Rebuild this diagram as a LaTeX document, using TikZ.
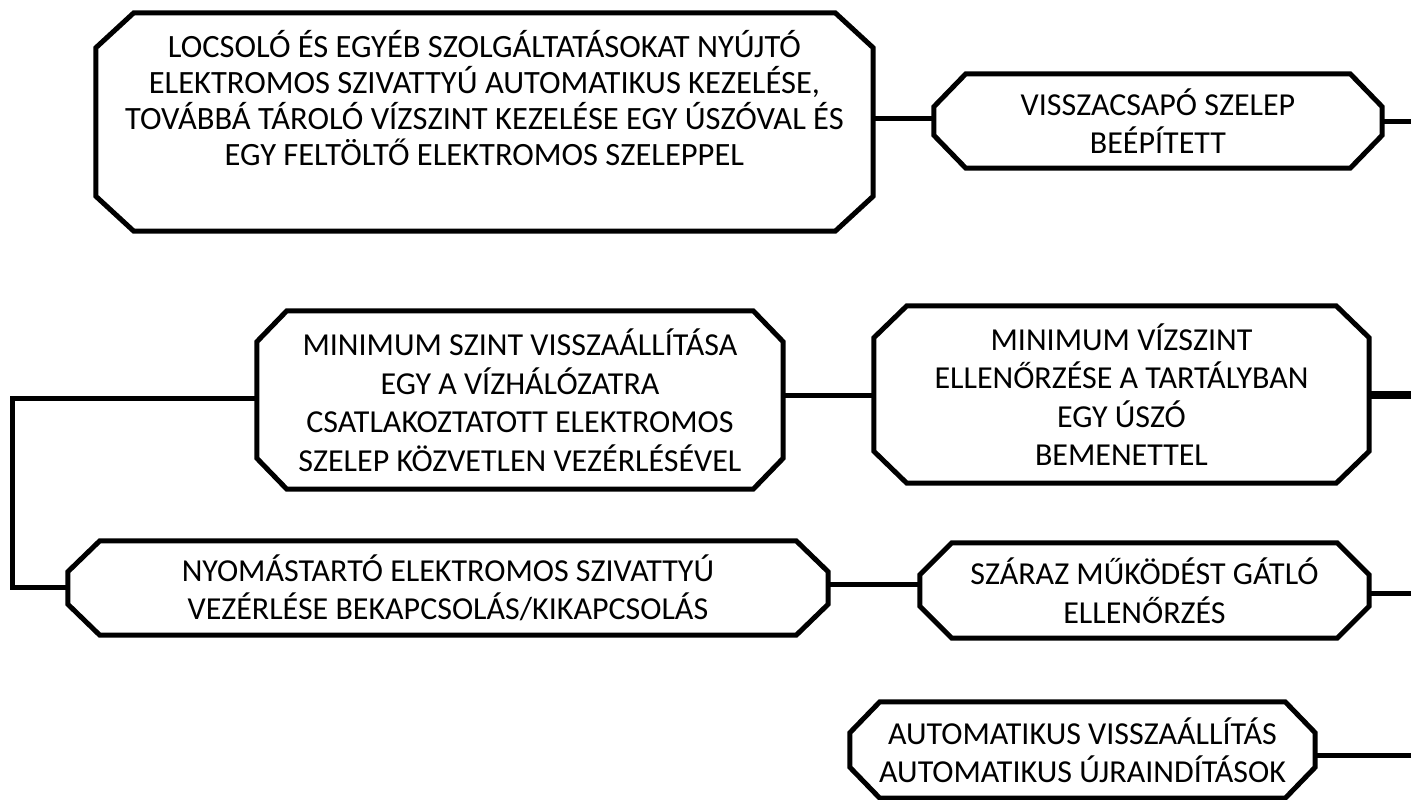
\documentclass[tikz,border=0pt]{standalone}
\usepackage{fontspec}
\setmainfont{Carlito}
\usetikzlibrary{calc}
\newcommand{\octo}[3]{%
  \draw[octline] ($(#1.north west)+(#2,0)$) -- ($(#1.north east)+(-#2,0)$)
    -- ($(#1.north east)+(0,#3)$) -- ($(#1.south east)+(0,-#3)$)
    -- ($(#1.south east)+(-#2,0)$) -- ($(#1.south west)+(#2,0)$)
    -- ($(#1.south west)+(0,-#3)$) -- ($(#1.north west)+(0,#3)$) -- cycle;}
\begin{document}
\begin{tikzpicture}[x=1pt,y=-1pt,
  octline/.style={draw=black, line width=5pt, line join=miter},
  octbox/.style={rectangle, draw=none, inner sep=0pt, align=center,
    font=\fontsize{32}{38.5}\selectfont},
  wire/.style={line width=5pt},
  lbl/.style={inner sep=0pt, align=center, font=\fontsize{32.5}{36}\selectfont}]
\useasboundingbox (0,0) rectangle (1411,800);
% boxes
\node[octbox, minimum width=777pt, minimum height=218pt] (n1) at (484.5,122) {};
\octo{n1}{38}{35}
\node[lbl] (t1) at (484.5,98) {LOCSOLÓ ÉS EGYÉB SZOLGÁLTATÁSOKAT NYÚJTÓ\\ELEKTROMOS SZIVATTYÚ AUTOMATIKUS KEZELÉSE,\\TOVÁBBÁ TÁROLÓ VÍZSZINT KEZELÉSE EGY ÚSZÓVAL ÉS\\EGY FELTÖLTŐ ELEKTROMOS SZELEPPEL};
\node[octbox, minimum width=448pt, minimum height=94pt] (n2) at (1158,121) {VISSZACSAPÓ SZELEP\\BEÉPÍTETT};
\octo{n2}{32}{33}
\node[octbox, minimum width=526pt, minimum height=178pt] (n3) at (520,400) {MINIMUM SZINT VISSZAÁLLÍTÁSA\\EGY A VÍZHÁLÓZATRA\\CSATLAKOZTATOTT ELEKTROMOS\\SZELEP KÖZVETLEN VEZÉRLÉSÉVEL};
\octo{n3}{30}{31}
\node[octbox, minimum width=760pt, minimum height=94pt] (n4) at (448,588) {NYOMÁSTARTÓ ELEKTROMOS SZIVATTYÚ\\VEZÉRLÉSE BEKAPCSOLÁS/KIKAPCSOLÁS};
\octo{n4}{32}{31}
\node[octbox, minimum width=495pt, minimum height=177pt] (n5) at (1121.5,394.5) {MINIMUM VÍZSZINT\\ELLENŐRZÉSE A TARTÁLYBAN\\EGY ÚSZÓ\\BEMENETTEL};
\octo{n5}{33}{32}
\node[octbox, minimum width=449pt, minimum height=95pt] (n6) at (1144.5,590.5) {SZÁRAZ MŰKÖDÉST GÁTLÓ\\ELLENŐRZÉS};
\octo{n6}{32}{32}
\node[octbox, minimum width=465pt, minimum height=96pt] (n7) at (1082.5,750) {AUTOMATIKUS VISSZAÁLLÍTÁS\\AUTOMATIKUS ÚJRAINDÍTÁSOK};
\octo{n7}{30}{31}
% free ends
\coordinate (e2) at (1415,120);
\coordinate (e5) at (1415,395);
\coordinate (e6) at (1415,593);
\coordinate (e7) at (1415,755);
\coordinate (xl) at (12,0);
% connectors
\draw[wire] (n1.east |- 0,118) -- (n2.west |- 0,118);
\draw[wire] (n2.east) -- (n2.east -| e2);
\draw[wire] (n3.east |- 0,395) -- (n5.west |- 0,395);
\draw[line width=8pt] (n5.east) -- (n5.east -| e5);
\draw[wire] (n3.west |- 0,398) -| (xl |- 0,587) -- (n4.west |- 0,587);
\draw[wire] (n4.east |- 0,584) -- (n6.west |- 0,584);
\draw[wire] (n6.east |- 0,593) -- (e6);
\draw[wire] (n7.east |- 0,755) -- (e7);
\end{tikzpicture}
\end{document}
